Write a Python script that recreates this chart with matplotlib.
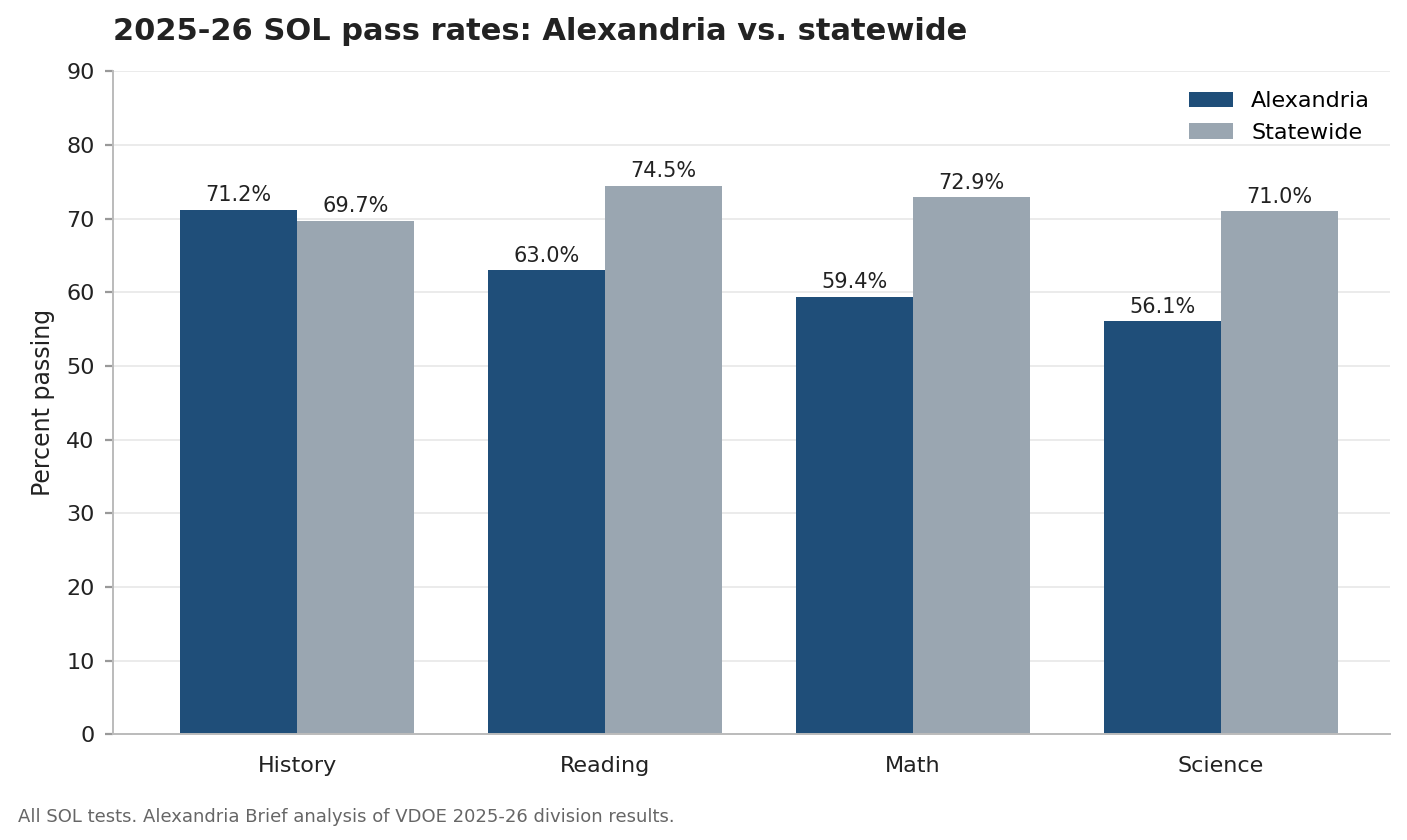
import matplotlib
matplotlib.use("Agg")
import matplotlib.pyplot as plt
import numpy as np

categories = ["History", "Reading", "Math", "Science"]
alexandria = [71.2, 63.0, 59.4, 56.1]
statewide = [69.7, 74.5, 72.9, 71.0]

fig = plt.figure(figsize=(7.035, 4.2), dpi=200)
ax = fig.add_axes([0.080, 0.126, 0.908, 0.789])
x = np.arange(len(categories))
w = 0.38
b1 = ax.bar(x - w/2, alexandria, w, color="#1f4e79", label="Alexandria")
b2 = ax.bar(x + w/2, statewide, w, color="#9aa6b1", label="Statewide")
for bars in (b1, b2):
    for r in bars:
        ax.text(r.get_x() + r.get_width()/2, r.get_height() + 0.6, f"{r.get_height():.1f}%",
                ha="center", va="bottom", fontsize=7.5, color="#222222")
ax.set_ylim(0, 90)
ax.set_yticks(range(0, 91, 10))
ax.set_xticks(x)
ax.set_xticklabels(categories)
ax.tick_params(labelsize=8, colors="#222222", length=3, color="#999999")
ax.tick_params(axis="x", length=0, pad=8)
ax.set_ylabel("Percent passing", fontsize=8.5, color="#222222")
ax.yaxis.grid(True, color="#e8e8e8", linewidth=0.6)
ax.set_axisbelow(True)
for s in ("top", "right"):
    ax.spines[s].set_visible(False)
for s in ("left", "bottom"):
    ax.spines[s].set_color("#bbbbbb")
    ax.spines[s].set_linewidth(0.7)
ax.set_xlim(-0.6, 3.55)
ax.legend(frameon=False, fontsize=8, loc="upper right")
fig.text(0.080, 0.945, "2025-26 SOL pass rates: Alexandria vs. statewide", fontsize=11,
         fontweight="bold", color="#222222", va="bottom")
fig.text(0.013, 0.022, "All SOL tests. Alexandria Brief analysis of VDOE 2025-26 division results.",
         fontsize=6.5, color="#666666")
fig.savefig("out.png", dpi=200)
